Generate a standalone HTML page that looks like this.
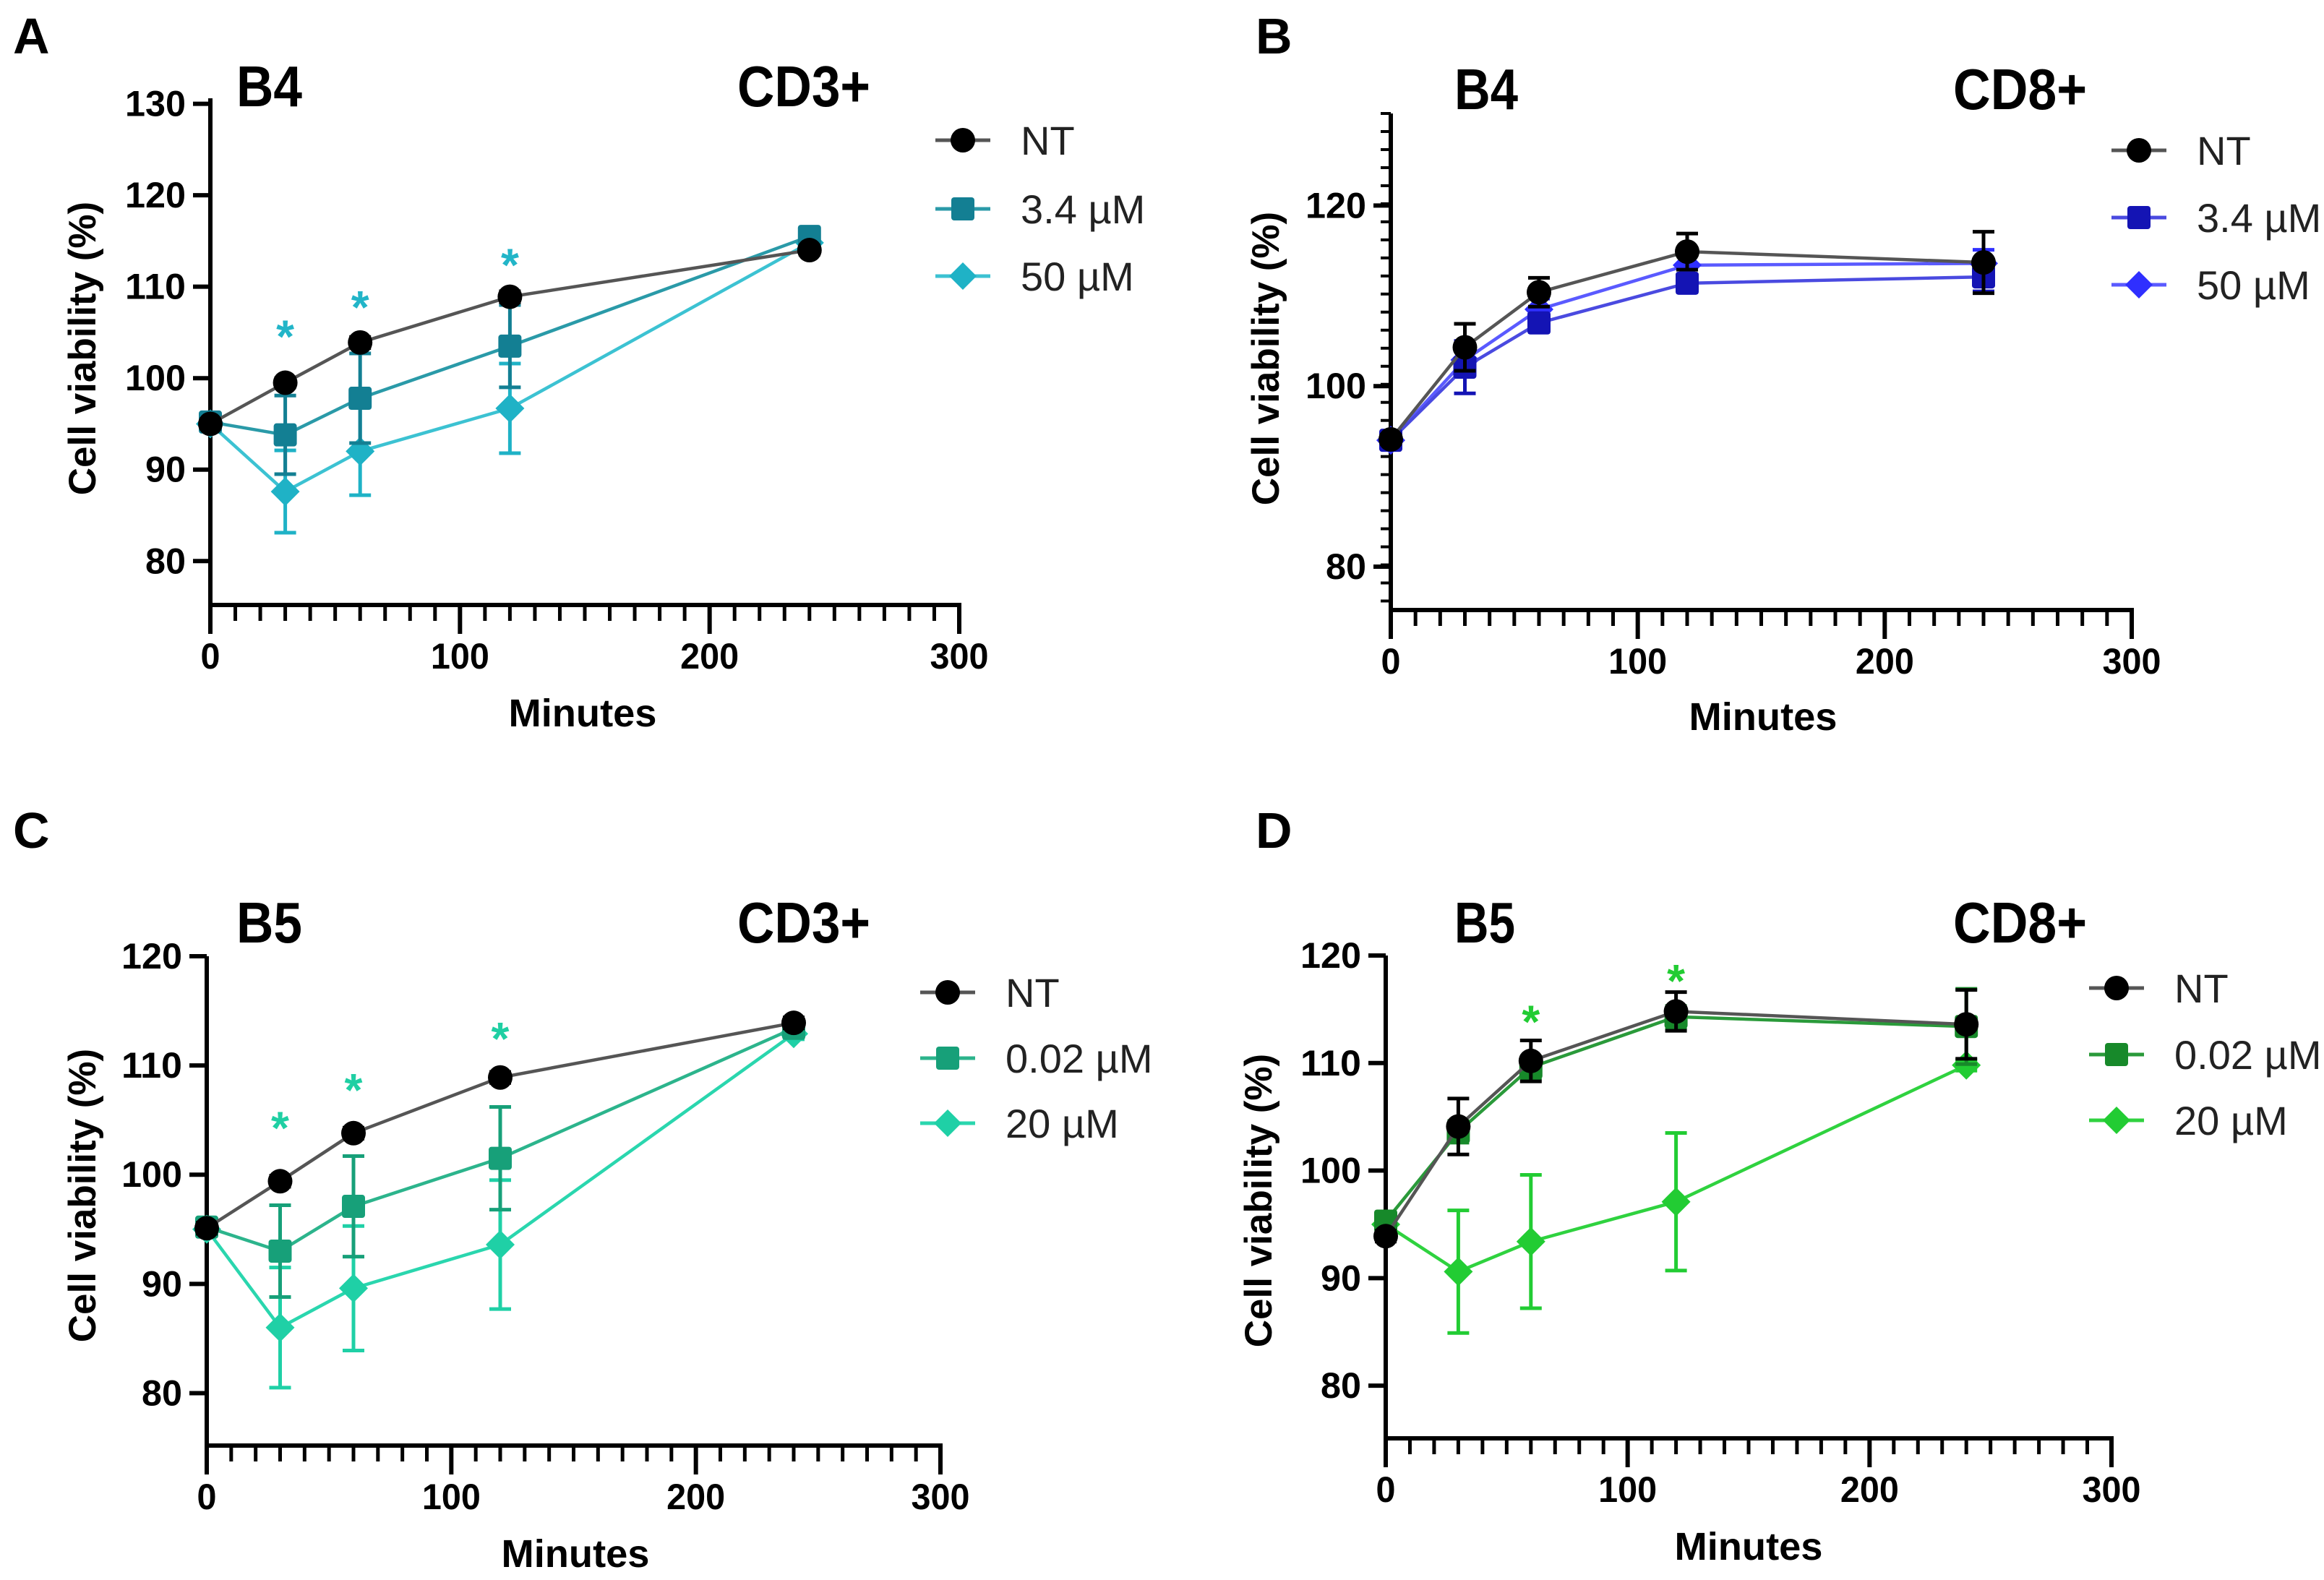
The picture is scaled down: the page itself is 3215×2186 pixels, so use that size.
<!DOCTYPE html>
<html><head><meta charset="utf-8">
<style>
html,body{margin:0;padding:0;background:#fff;}
svg{display:block;}
text{font-family:"Liberation Sans",Arial,sans-serif;}
</style></head>
<body>
<svg id="fig" width="3215" height="2186" viewBox="0 0 3215 2186" xmlns="http://www.w3.org/2000/svg"></svg>
<script>
// ---- data ----
const minutes = [0, 30, 60, 120, 240];
const xTicks = [0, 100, 200, 300];

const aNT = [95.0, 99.5, 103.9, 108.9, 114.0];
const aNTerr = [0.5, 0.5, 0.6, 0.6, 0.5];
const aLow = [95.2, 93.8, 97.8, 103.5, 115.5];
const aLowErr = [0.5, 4.3, 4.9, 4.5, 0.5];
const aHigh = [95.0, 87.6, 92.0, 96.7, 114.8];
const aHighErr = [0.5, 4.5, 4.8, 4.9, 0.5];
const aStars = [30, 60, 120];
const aStarVals = [105.2, 108.4, 113.0];
const aYTicks = [80, 90, 100, 110, 120, 130];

const bNT = [94.1, 104.3, 110.4, 114.9, 113.7];
const bNTerr = [0.5, 2.6, 1.6, 2.0, 3.4];
const bLow = [94.0, 102.1, 107.0, 111.4, 112.1];
const bLowErr = [0.5, 2.9, 1.0, 1.0, 1.6];
const bHigh = [94.0, 102.9, 108.5, 113.4, 113.6];
const bHighErr = [0.5, 1.5, 1.2, 1.5, 1.5];
const bYTicks = [80, 100, 120];

const cNT = [95.1, 99.4, 103.8, 108.9, 113.9];
const cNTerr = [0.5, 0.5, 0.5, 0.5, 0.5];
const cLow = [95.2, 93.0, 97.1, 101.5, 113.4];
const cLowErr = [0.5, 4.2, 4.6, 4.7, 0.5];
const cHigh = [95.0, 86.0, 89.6, 93.6, 112.9];
const cHighErr = [0.5, 5.5, 5.7, 5.9, 0.5];
const cStars = [30, 60, 120];
const cStarVals = [104.8, 108.3, 113.0];
const cYTicks = [80, 90, 100, 110, 120];

const dNT = [93.9, 104.1, 110.2, 114.8, 113.6];
const dNTerr = [0.5, 2.6, 1.9, 1.8, 3.2];
const dLow = [95.3, 103.6, 109.6, 114.3, 113.4];
const dLowErr = [0.5, 1.0, 1.0, 1.0, 3.5];
const dHigh = [95.0, 90.6, 93.4, 97.1, 109.8];
const dHighErr = [0.5, 5.7, 6.2, 6.4, 0.5];
const dStars = [60, 120];
const dStarVals = [114.4, 118.2];
const dYTicks = [80, 90, 100, 110, 120];

// ---- drawing ----
const NS = "http://www.w3.org/2000/svg";
const svg = document.getElementById('fig');
function mk(tag, attrs, parent, txt){
  const e = document.createElementNS(NS, tag);
  for (const k in attrs) e.setAttribute(k, attrs[k]);
  if (txt !== undefined) e.textContent = txt;
  (parent || svg).appendChild(e);
  return e;
}
function marker(g, shape, cx, cy, color, size){
  if (shape === 'circle') return mk('circle', {cx:cx, cy:cy, r:size, fill:color}, g);
  if (shape === 'square') return mk('rect', {x:cx-size, y:cy-size, width:2*size, height:2*size, rx:4, fill:color}, g);
  return mk('polygon', {points:`${cx},${cy-size} ${cx+size},${cy} ${cx},${cy+size} ${cx-size},${cy}`, fill:color}, g);
}

function panel(p){
  const g = mk('g', {});
  
  
  const X = v => p.x0 + (v - 0) / 300 * (p.x1 - p.x0);
  const Y = v => p.yBottom - (v - p.ymin) / (p.ymax - p.ymin) * (p.yBottom - p.yTop);

  const L = mk('text', {x:p.letterX, y:p.letterY, 'font-size':70, 'font-weight':'bold', fill:'#000'}, g, p.letter);
  
  
  const t1 = mk('text', {x:p.t1x, y:p.titleY, 'font-size':80, 'font-weight':'bold', textLength:p.t1w, lengthAdjust:'spacingAndGlyphs'}, g, p.t1);
  
  
  const t2 = mk('text', {x:p.t2x, y:p.titleY, 'font-size':80, 'font-weight':'bold', textLength:p.t2w, lengthAdjust:'spacingAndGlyphs'}, g, p.t2);
  
  

  const ya = mk('line', {x1:p.x0, y1:p.yTop, x2:p.x0, y2:p.yBottom+3, stroke:'#000', 'stroke-width':6}, g);
  
  
  const xa = mk('line', {x1:p.x0-3, y1:p.yBottom, x2:p.x1+3, y2:p.yBottom, stroke:'#000', 'stroke-width':6}, g);
  
  

  for (let v = 0; v <= 300; v += 10){
    const major = v % 100 === 0;
    mk('line', {x1:X(v), y1:p.yBottom, x2:X(v), y2:p.yBottom + (major ? 40 : 22), stroke:'#000', 'stroke-width':major?6:5}, g);
  }
  xTicks.forEach(v => {
    const t = mk('text', {x:X(v), y:p.yBottom + 88, 'font-size':50, 'font-weight':'bold', 'text-anchor':'middle', textLength:(String(v).length*27), lengthAdjust:'spacingAndGlyphs'}, g, v);
    
    
  });
  if (p.minorY){
    for (let v = p.ymin + 1; v <= p.ymax; v += 2){
      mk('line', {x1:p.x0, y1:Y(v), x2:p.x0-14, y2:Y(v), stroke:'#000', 'stroke-width':4}, g);
    }
  }
  p.yTicks.forEach(v => {
    mk('line', {x1:p.x0, y1:Y(v), x2:p.x0-24, y2:Y(v), stroke:'#000', 'stroke-width':6}, g);
    const t = mk('text', {x:p.x0-34, y:Y(v)+17, 'font-size':50, 'font-weight':'bold', 'text-anchor':'end', textLength:(String(v).length*28), lengthAdjust:'spacingAndGlyphs'}, g, v);
    
    
  });
  const yt = mk('text', {x:0, y:0, 'font-size':53, 'font-weight':'bold', 'text-anchor':'middle', transform:`translate(${p.ytx},${p.yty}) rotate(-90)`}, g, 'Cell viability (%)');
  
  
  const xt = mk('text', {x:p.xtx, y:p.xty, 'font-size':54, 'font-weight':'bold', 'text-anchor':'middle', textLength:205, lengthAdjust:'spacingAndGlyphs'}, g, 'Minutes');
  
  

  const order = [2, 1, 0];
  order.forEach(si => {
    const s = p.series[si];
    const sg = mk('g', {}, g);
    
    
    s.vals.forEach((v, i) => {
      const x = X(minutes[i]);
      const up = Y(v + s.err[i]), dn = Y(v - s.err[i]);
      const eb = mk('path', {d:`M${x},${up}V${dn}M${x-15},${up}H${x+15}M${x-15},${dn}H${x+15}`, stroke:s.color, 'stroke-width':5, fill:'none'}, sg);
      
      
    });
    const pts = s.vals.map((v, i) => X(minutes[i]) + ',' + Y(v)).join(' ');
    const ln = mk('polyline', {points:pts, fill:'none', stroke:s.line, 'stroke-width':4.5}, sg);
    
    
    s.vals.forEach((v, i) => {
      const m = marker(sg, s.shape, X(minutes[i]), Y(v), s.color, s.shape==='circle'?17:(s.shape==='square'?16:20));
      
      
    });
  });

  p.stars.forEach((m, i) => {
    const st = mk('text', {x:X(m), y:Y(p.starVals[i]) + 30, 'font-size':64, 'font-weight':'bold', 'text-anchor':'middle', fill:p.starColor}, g, '*');
    
    
  });

  p.series.forEach((s, i) => {
    const ly = p.legY[i];
    const lg = mk('g', {}, g);
    
    
    mk('line', {x1:p.legX-38, y1:ly, x2:p.legX+38, y2:ly, stroke:s.line, 'stroke-width':5}, lg);
    marker(lg, s.shape, p.legX, ly, s.color, s.shape==='circle'?17:(s.shape==='square'?16:19));
    mk('text', {x:p.legX+80, y:ly+20, 'font-size':56, fill:'#222'}, lg, s.name);
  });
}

panel({letter:'A', letterX:18, letterY:74, t1:'B4', t1x:327, t1w:91, t2:'CD3+', t2x:1020, t2w:184, titleY:147,
  x0:291, x1:1327, yTop:136, yBottom:837, ymin:75.2, ymax:130.6, yTicks:aYTicks, minorY:false,
  ytx:132, yty:482, xtx:806, xty:1005,
  legX:1332, legY:[194, 289, 382],
  stars:aStars, starVals:aStarVals, starColor:'#22b5c8',
  series:[
    {key:'nt', name:'NT', shape:'circle', color:'#000', line:'#555', vals:aNT, err:aNTerr},
    {key:'3-4-um', name:'3.4 µM', shape:'square', color:'#137f93', line:'#2a9aa8', vals:aLow, err:aLowErr},
    {key:'50-um', name:'50 µM', shape:'diamond', color:'#1fb2c6', line:'#3cc2d2', vals:aHigh, err:aHighErr}]});

panel({letter:'B', letterX:1737, letterY:74, t1:'B4', t1x:2012, t1w:88, t2:'CD8+', t2x:2702, t2w:185, titleY:151,
  x0:1924, x1:2949, yTop:157, yBottom:844, ymin:75.2, ymax:130.2, yTicks:bYTicks, minorY:true,
  ytx:1769, yty:496, xtx:2439, xty:1010,
  legX:2959, legY:[208, 301, 394],
  stars:[], starVals:[], starColor:'#00f',
  series:[
    {key:'nt', name:'NT', shape:'circle', color:'#000', line:'#555', vals:bNT, err:bNTerr},
    {key:'3-4-um', name:'3.4 µM', shape:'square', color:'#1414b4', line:'#4a4ae0', vals:bLow, err:bLowErr},
    {key:'50-um', name:'50 µM', shape:'diamond', color:'#2f2fff', line:'#5a5aff', vals:bHigh, err:bHighErr}]});

panel({letter:'C', letterX:18, letterY:1173, t1:'B5', t1x:327, t1w:91, t2:'CD3+', t2x:1020, t2w:184, titleY:1304,
  x0:286, x1:1301, yTop:1323, yBottom:2000, ymin:75.2, ymax:120, yTicks:cYTicks, minorY:false,
  ytx:132, yty:1654, xtx:796, xty:2168,
  legX:1311, legY:[1373, 1464, 1554],
  stars:cStars, starVals:cStarVals, starColor:'#1fcfa3',
  series:[
    {key:'nt', name:'NT', shape:'circle', color:'#000', line:'#555', vals:cNT, err:cNTerr},
    {key:'0-02-um', name:'0.02 µM', shape:'square', color:'#17a079', line:'#2cb48c', vals:cLow, err:cLowErr},
    {key:'20-um', name:'20 µM', shape:'diamond', color:'#1fd0a6', line:'#2ad6ae', vals:cHigh, err:cHighErr}]});

panel({letter:'D', letterX:1737, letterY:1173, t1:'B5', t1x:2012, t1w:84, t2:'CD8+', t2x:2702, t2w:185, titleY:1304,
  x0:1917, x1:2921, yTop:1322, yBottom:1990, ymin:75.1, ymax:120, yTicks:dYTicks, minorY:false,
  ytx:1759, yty:1661, xtx:2419, xty:2158,
  legX:2928, legY:[1367, 1459, 1550],
  stars:dStars, starVals:dStarVals, starColor:'#22cc33',
  series:[
    {key:'nt', name:'NT', shape:'circle', color:'#000', line:'#555', vals:dNT, err:dNTerr},
    {key:'0-02-um', name:'0.02 µM', shape:'square', color:'#17892a', line:'#2a9a3a', vals:dLow, err:dLowErr},
    {key:'20-um', name:'20 µM', shape:'diamond', color:'#22cc33', line:'#2fd23f', vals:dHigh, err:dHighErr}]});
</script>
</body></html>
